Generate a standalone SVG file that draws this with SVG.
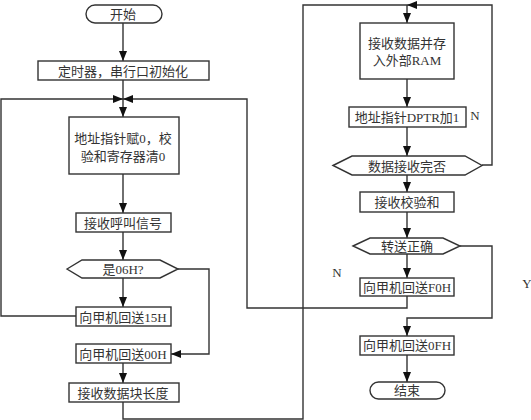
<svg xmlns="http://www.w3.org/2000/svg" width="531" height="420" viewBox="0 0 531 420">
<defs>
<marker id="ah" viewBox="0 0 10 8" refX="10" refY="4" markerWidth="10" markerHeight="8" markerUnits="userSpaceOnUse" orient="auto">
<path d="M0,0 L10,4 L0,8 z" fill="#111"/>
</marker>
<style>
.n{fill:#fff;stroke:#333;stroke-width:1.4}
.t{font-family:"Liberation Serif","Noto Sans CJK SC",serif;font-size:13px;fill:#333;text-anchor:middle;dominant-baseline:central}
.c{fill:none;stroke:#333;stroke-width:1.4}
.a{marker-end:url(#ah)}
</style>
</defs>
<rect width="531" height="420" fill="#fff"/>
<g id="connectors">
<path class="c a" d="M123,23 V61"/>
<path class="c a" d="M123,80 V117"/>
<path class="c a" d="M76,316 H1 V99 H123"/>
<path class="c a" d="M407,295 V308 H247 V99 H123"/>
<path class="c a" d="M123,174 V213"/>
<path class="c a" d="M123,232 V260"/>
<path class="c a" d="M123,278 V307"/>
<path class="c a" d="M178,269 H209 V354 H171"/>
<path class="c a" d="M123,363 V383"/>
<path class="c" d="M123,402 V419 H303 V5 H407"/>
<path class="c a" d="M407,5 V23"/>
<path class="c a" d="M482,165 H492 V5 H407"/>
<path class="c a" d="M407,79 V107"/>
<path class="c a" d="M407,127 V156"/>
<path class="c a" d="M407,175 V192"/>
<path class="c a" d="M407,212 V238"/>
<path class="c a" d="M407,254 V278"/>
<path class="c a" d="M460,246 H492 V318 H407 V336"/>
<path class="c a" d="M407,355 V382"/>
</g>
<g id="start"><rect class="n" x="86" y="5" width="76" height="18" rx="9"/><text class="t" x="123" y="14">开始</text></g>
<g id="init"><rect class="n" x="38" y="61" width="171" height="19"/><text class="t" x="123" y="71">定时器，串行口初始化</text></g>
<g id="clear"><rect class="n" x="69" y="117" width="110" height="57"/><text class="t" x="123" y="138">地址指针赋0，校</text><text class="t" x="123" y="156">验和寄存器清0</text></g>
<g id="recvcall"><rect class="n" x="76" y="213" width="95" height="19"/><text class="t" x="123" y="223">接收呼叫信号</text></g>
<g id="is06"><polygon class="n" points="67,269 82,260 160,260 178,269 160,278 82,278"/><text class="t" x="123" y="269">是06H?</text></g>
<g id="send15"><rect class="n" x="76" y="307" width="95" height="19"/><text class="t" x="123" y="317">向甲机回送15H</text></g>
<g id="send00"><rect class="n" x="76" y="344" width="95" height="19"/><text class="t" x="123" y="354">向甲机回送00H</text></g>
<g id="recvlen"><rect class="n" x="69" y="383" width="110" height="19"/><text class="t" x="123" y="393">接收数据块长度</text></g>
<g id="store"><rect class="n" x="360" y="23" width="94" height="56"/><text class="t" x="407" y="43">接收数据并存</text><text class="t" x="407" y="60">入外部RAM</text></g>
<g id="inc"><rect class="n" x="349" y="107" width="117" height="20"/><text class="t" x="407" y="117">地址指针DPTR加1</text></g>
<g id="done"><polygon class="n" points="333,165.5 352,156 465,156 482,165.5 465,175 352,175"/><text class="t" x="407" y="166">数据接收完否</text></g>
<g id="recvsum"><rect class="n" x="360" y="192" width="94" height="20"/><text class="t" x="407" y="202">接收校验和</text></g>
<g id="ok"><polygon class="n" points="353,246 370,238 443,238 460,246 443,254 370,254"/><text class="t" x="407" y="246">转送正确</text></g>
<g id="sendF0"><rect class="n" x="360" y="278" width="94" height="18"/><text class="t" x="407" y="287">向甲机回送F0H</text></g>
<g id="send0F"><rect class="n" x="360" y="336" width="94" height="19"/><text class="t" x="407" y="345">向甲机回送0FH</text></g>
<g id="end"><rect class="n" x="370" y="382" width="75" height="17" rx="8.5"/><text class="t" x="407" y="390">结束</text></g>
<g id="labels">
<text class="t" x="475" y="115">N</text>
<text class="t" x="337" y="272">N</text>
<text class="t" x="527" y="283">Y</text>
</g>
</svg>
